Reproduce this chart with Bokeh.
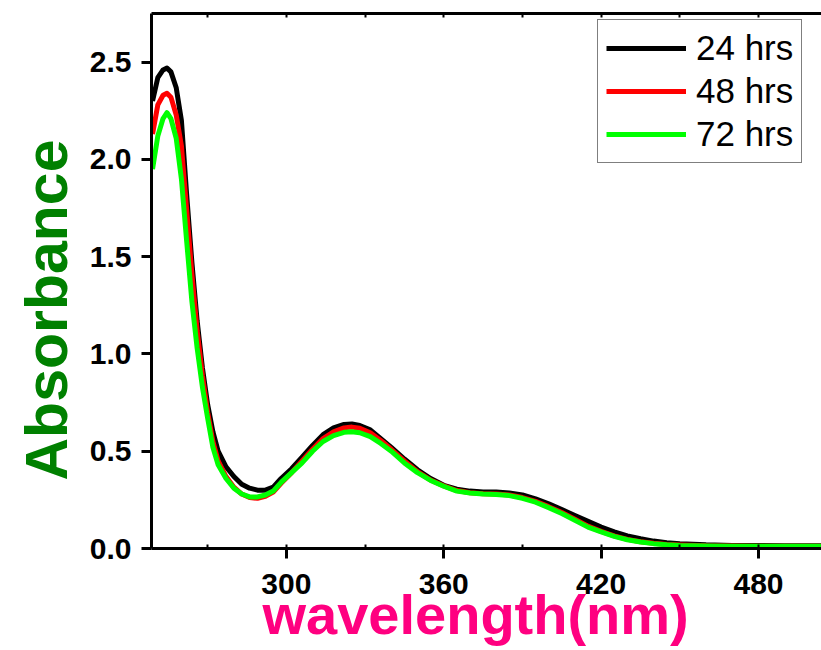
from bokeh.plotting import figure
from bokeh.models import (LinearAxis, FixedTicker, SingleIntervalTicker, NumeralTickFormatter,
                          Title, Legend, LegendItem, Range1d)
from bokeh.embed import file_html
from bokeh.resources import INLINE

wavelength = [249, 251, 253, 254.5, 256, 258, 260, 262, 264, 266, 268, 270, 272, 274, 277, 280,
              283, 286, 289, 292, 295, 298, 302, 306, 310, 314, 318, 322, 325, 328, 332, 336,
              340, 345, 350, 355, 360, 365, 370, 375, 380, 385, 390, 395, 400, 405, 410, 415,
              420, 425, 430, 435, 440, 445, 450, 460, 470, 480, 490, 500, 504]

abs_24 = [2.30, 2.42, 2.46, 2.47, 2.45, 2.37, 2.20, 1.82, 1.47, 1.17, 0.93, 0.74, 0.60, 0.50, 0.42, 0.37,
          0.33, 0.31, 0.30, 0.30, 0.315, 0.36, 0.41, 0.47, 0.53, 0.585, 0.62, 0.638, 0.64, 0.632, 0.61, 0.565,
          0.52, 0.46, 0.405, 0.36, 0.325, 0.305, 0.295, 0.29, 0.29, 0.285, 0.275, 0.255, 0.23, 0.20, 0.17, 0.14,
          0.11, 0.085, 0.065, 0.05, 0.038, 0.03, 0.025, 0.019, 0.016, 0.015, 0.014, 0.014, 0.014]

abs_48 = [2.13, 2.28, 2.33, 2.34, 2.32, 2.23, 2.07, 1.74, 1.41, 1.12, 0.89, 0.70, 0.55, 0.45, 0.37, 0.315,
          0.28, 0.262, 0.258, 0.268, 0.29, 0.335, 0.39, 0.45, 0.51, 0.565, 0.60, 0.62, 0.624, 0.618, 0.595, 0.555,
          0.51, 0.45, 0.395, 0.352, 0.322, 0.298, 0.287, 0.282, 0.28, 0.275, 0.262, 0.242, 0.215, 0.185, 0.15, 0.115,
          0.088, 0.065, 0.047, 0.035, 0.027, 0.021, 0.018, 0.014, 0.013, 0.012, 0.012, 0.012, 0.012]

abs_72 = [1.95, 2.12, 2.21, 2.24, 2.21, 2.11, 1.90, 1.58, 1.27, 1.03, 0.83, 0.67, 0.52, 0.43, 0.36, 0.31,
          0.28, 0.265, 0.265, 0.275, 0.295, 0.34, 0.39, 0.44, 0.50, 0.55, 0.58, 0.597, 0.60, 0.595, 0.575, 0.54,
          0.50, 0.44, 0.39, 0.35, 0.32, 0.295, 0.285, 0.28, 0.278, 0.272, 0.258, 0.238, 0.21, 0.18, 0.145, 0.11,
          0.085, 0.062, 0.045, 0.033, 0.025, 0.019, 0.016, 0.013, 0.012, 0.012, 0.011, 0.011, 0.011]

series_names = ["24 hrs", "48 hrs", "72 hrs"]
series_colors = ["#000000", "#FF0000", "#00FF00"]
y_ticks = [0.0, 0.5, 1.0, 1.5, 2.0, 2.5]
top_ticks = [270, 300, 330, 360, 390, 420, 450, 480]

FONT = "Liberation Sans"

p = figure(width=821, height=650, output_backend="svg", toolbar_location=None,
           x_range=Range1d(248.6, 504), y_range=Range1d(0.0, 2.75),
           min_border_left=151, min_border_right=0, min_border_top=13, min_border_bottom=102,
           x_axis_location="below", y_axis_location="left")
p.outline_line_color = None
p.xgrid.visible = False
p.ygrid.visible = False
p.background_fill_color = "white"
p.border_fill_color = "white"

renderers = []
for ys, c in zip([abs_24, abs_48, abs_72], series_colors):
    r = p.line(wavelength, ys, line_color=c, line_width=5, line_join="round")
    renderers.append(r)

# bottom axis
xa = p.xaxis[0]
xa.ticker = SingleIntervalTicker(interval=60, num_minor_ticks=2)
xa.axis_line_width = 3
xa.major_tick_line_width = 3
xa.major_tick_out = 10
xa.major_tick_in = 0
xa.minor_tick_line_width = 2
xa.minor_tick_in = 4
xa.minor_tick_out = 0
xa.major_label_text_font = FONT
xa.major_label_text_font_style = "bold"
xa.major_label_text_font_size = "30px"
xa.major_label_text_color = "black"
xa.major_label_standoff = 15

# left axis
ya = p.yaxis[0]
ya.ticker = FixedTicker(ticks=y_ticks)
ya.formatter = NumeralTickFormatter(format="0.0")
ya.axis_line_width = 3
ya.major_tick_line_width = 3
ya.major_tick_out = 10
ya.major_tick_in = 0
ya.minor_tick_line_color = None
ya.major_label_text_font = FONT
ya.major_label_text_font_style = "bold"
ya.major_label_text_font_size = "30px"
ya.major_label_text_color = "black"
ya.major_label_standoff = 10

# top axis (spine only with small inward ticks)
ta = LinearAxis(ticker=FixedTicker(ticks=top_ticks), axis_line_width=3,
                major_tick_line_width=2, major_tick_in=4, major_tick_out=0,
                minor_tick_line_color=None, major_label_text_font_size="0px",
                major_label_text_alpha=0)
p.add_layout(ta, "above")

# axis titles
p.add_layout(Title(text="Absorbance", align="left", offset=68, standoff=10, vertical_align="top",
                   text_font=FONT, text_font_style="bold", text_font_size="59px",
                   text_color="#008000"), "left")
p.add_layout(Title(text="wavelength(nm)", align="left", offset=111, standoff=-31, vertical_align="bottom",
                   text_font=FONT, text_font_style="bold", text_font_size="56px",
                   text_color="#FF0080"), "below")

legend = Legend(items=[LegendItem(label=n, renderers=[r]) for n, r in zip(series_names, renderers)],
                location=(446, 385), margin=0, padding=8, spacing=3,
                glyph_width=80, glyph_height=40, label_height=40, label_standoff=10,
                label_text_font=FONT, label_text_font_size="35px", label_text_color="black",
                border_line_color="black", border_line_width=1, background_fill_color="white",
                background_fill_alpha=1)
p.add_layout(legend, "center")

open("out.html", "w").write(file_html(p, INLINE))
